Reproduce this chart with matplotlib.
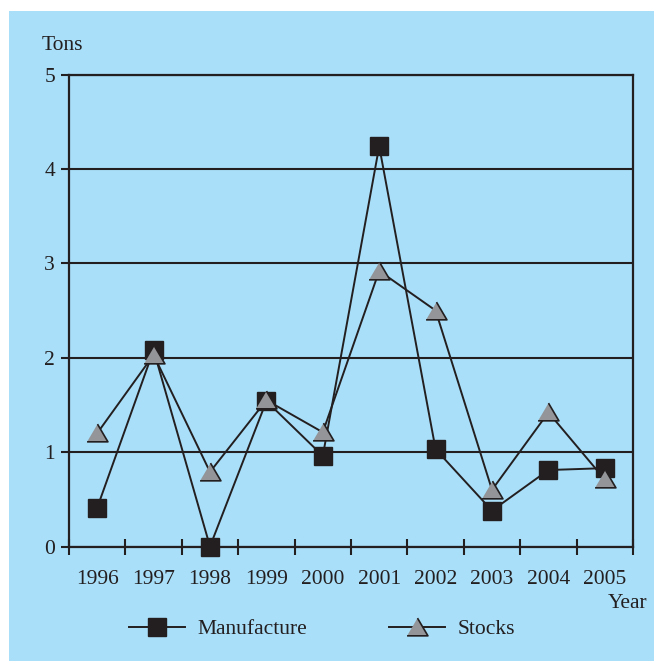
import matplotlib.pyplot as plt
from matplotlib.patches import Rectangle
from matplotlib.lines import Line2D

# data
years = ['1996', '1997', '1998', '1999', '2000', '2001', '2002', '2003', '2004', '2005']
manufacture = [0.41, 2.08, 0.00, 1.54, 0.96, 4.24, 1.03, 0.38, 0.81, 0.83]
stocks = [1.20, 2.03, 0.79, 1.55, 1.21, 2.92, 2.50, 0.60, 1.42, 0.71]
y_ticks = [0, 1, 2, 3, 4, 5]

blue = '#a9dff9'
dark = '#231f20'
grey = '#939598'
tri = [(-1, -0.8), (1, -0.8), (0, 0.9)]
fs = 15.5

plt.rcParams['font.family'] = ['Liberation Serif', 'DejaVu Serif']

fig = plt.figure(figsize=(6.54, 6.61), dpi=100)
fig.patch.set_facecolor('white')
fig.patches.append(Rectangle((9 / 654, 0), 1, 650 / 661, transform=fig.transFigure,
                             facecolor=blue, edgecolor='none', zorder=-10))

ax = fig.add_axes([69 / 654, 114.5 / 661, 564 / 654, 472 / 661])
ax.set_facecolor(blue)

x = list(range(len(years)))
ax.plot(x, manufacture, color=dark, lw=1.4, marker='s', ms=12.5,
        mfc=dark, mec=dark, zorder=3, clip_on=False)
ax.plot(x, stocks, color=dark, lw=1.4, marker=tri, ms=15,
        mfc=grey, mec=dark, mew=1.2, zorder=4, clip_on=False)

ax.set_xlim(-0.5, len(years) - 0.5)
ax.set_ylim(0, 5)

# boundary ticks (no labels) and category labels on minor ticks
ax.set_xticks([i - 0.5 for i in range(len(years) + 1)])
ax.set_xticklabels([])
ax.set_xticks(x, minor=True)
ax.set_xticklabels(years, minor=True, fontsize=fs, color=dark)
ax.tick_params(axis='x', which='major', direction='inout', length=12, width=1.5, color=dark)
ax.tick_params(axis='x', which='minor', length=0, pad=17)

ax.set_yticks(y_ticks)
ax.set_yticklabels([str(v) for v in y_ticks], fontsize=fs, color=dark)
ax.tick_params(axis='y', direction='out', length=6, width=1.5, color=dark, pad=4)

ax.grid(axis='y', color=dark, lw=1.5)
ax.set_axisbelow(True)
for side in ['left', 'bottom', 'right', 'top']:
    ax.spines[side].set_color(dark)
    ax.spines[side].set_linewidth(1.6)

fig.text(42 / 654, 1 - 45 / 661, 'Tons', fontsize=fs, color=dark, va='center', ha='left')
fig.text(608 / 654, 1 - 604 / 661, 'Year', fontsize=fs, color=dark, va='center', ha='left')

handles = [
    Line2D([], [], color=dark, lw=1.4, marker='s', ms=12.5, mfc=dark, mec=dark),
    Line2D([], [], color=dark, lw=1.4, marker=tri, ms=15, mfc=grey, mec=dark, mew=1.2),
]
fig.legend(handles, ['Manufacture', 'Stocks'], loc='center', ncol=2,
           bbox_to_anchor=(322 / 654, 1 - 629 / 661), frameon=False,
           fontsize=fs, handlelength=2.6, handletextpad=0.6, columnspacing=3.8,
           labelcolor=dark)

fig.savefig('out.png', dpi=100, facecolor='white')
